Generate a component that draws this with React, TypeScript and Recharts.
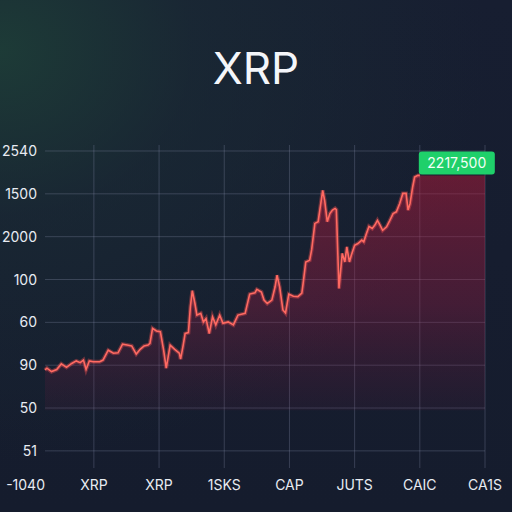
import React from "react";
import {
  ComposedChart,
  Area,
  Line,
  XAxis,
  YAxis,
  CartesianGrid,
} from "recharts";

// time position (in x-tick units) and price level (in y-tick units)
const time = [
  0.25, 0.28, 0.35, 0.43, 0.5, 0.58, 0.66, 0.73, 0.79, 0.84, 0.88, 0.93, 0.99,
  1.09, 1.14, 1.22, 1.3, 1.37, 1.44, 1.51, 1.58, 1.65, 1.71, 1.77, 1.83, 1.86,
  1.9, 1.96, 2.02, 2.07, 2.11, 2.17, 2.24, 2.31, 2.33, 2.37, 2.4, 2.45, 2.48,
  2.51, 2.55, 2.58, 2.64, 2.68, 2.72, 2.77, 2.82, 2.87, 2.93, 2.98, 3.06, 3.14,
  3.21, 3.32, 3.39, 3.47, 3.5, 3.57, 3.61, 3.66, 3.73, 3.78, 3.81, 3.85, 3.9,
  3.94, 3.99, 4.06, 4.13, 4.19, 4.21, 4.25, 4.31, 4.34, 4.39, 4.44, 4.51, 4.54,
  4.58, 4.62, 4.66, 4.7, 4.72, 4.76, 4.81, 4.85, 4.88, 4.92, 4.95, 5.0, 5.05,
  5.11, 5.14, 5.18, 5.22, 5.27, 5.31, 5.35, 5.39, 5.43, 5.49, 5.54, 5.59, 5.64,
  5.69, 5.74, 5.79, 5.82, 5.85, 5.89, 5.92, 5.97, 6.0,
];
const price = [
  1.89, 1.93, 1.85, 1.9, 2.03, 1.95, 2.04, 2.1, 2.06, 2.12, 1.9, 2.1, 2.08,
  2.08, 2.12, 2.35, 2.28, 2.29, 2.49, 2.47, 2.45, 2.26, 2.37, 2.45, 2.47, 2.51,
  2.86, 2.8, 2.78, 2.35, 1.93, 2.47, 2.37, 2.28, 2.14, 2.47, 2.74, 2.76, 3.36,
  3.74, 3.44, 3.17, 3.21, 3.01, 3.09, 2.74, 3.13, 2.94, 3.17, 2.98, 3.01, 2.94,
  3.17, 3.21, 3.66, 3.69, 3.77, 3.71, 3.52, 3.44, 3.52, 3.83, 4.1, 3.83, 3.29,
  3.22, 3.66, 3.61, 3.6, 3.68, 3.91, 4.41, 4.45, 4.69, 5.31, 5.35, 6.08, 5.85,
  5.35, 5.54, 5.62, 5.66, 5.63, 3.79, 4.61, 4.41, 4.76, 4.41, 4.57, 4.8, 4.84,
  4.92, 4.88, 5.07, 5.24, 5.19, 5.27, 5.38, 5.27, 5.15, 5.23, 5.38, 5.54, 5.58,
  5.77, 6.01, 6.01, 5.62, 5.77, 6.16, 6.39, 6.43, 6.43,
];
const fillEnd = 7;

const xTicks = [0.25, 1, 2, 3, 4, 5, 6, 7];
const xLabels = ["-1040", "XRP", "XRP", "1SKS", "CAP", "JUTS", "CAIC", "CA1S"];
const yTicks = [0, 1, 2, 3, 4, 5, 6, 7];
const yLabels = ["51", "50", "90", "60", "100", "2000", "1500", "2540"];
const lastLabel = "2217,500";

const data = [
  ...time.map((t, i) => ({ t, price: price[i], fill: price[i] })),
  { t: fillEnd, price: null, fill: price[price.length - 1] },
];

const FONT = "Inter, 'Noto Sans', sans-serif";

const XTick = (props: any) => {
  const { x, y, payload, index } = props;
  return (
    <text
      x={x}
      y={y + 14}
      textAnchor={index === 0 ? "end" : "middle"}
      fill="#e8ebf2"
      fontSize={14}
      fontFamily={FONT}
    >
      {xLabels[xTicks.indexOf(payload.value)]}
    </text>
  );
};

const YTick = (props: any) => {
  const { x, y, payload } = props;
  return (
    <text
      x={x}
      y={y + 5}
      textAnchor="end"
      fill="#e8ebf2"
      fontSize={14}
      fontFamily={FONT}
    >
      {yLabels[payload.value]}
    </text>
  );
};

const EndBadge = (props: any) => {
  const { cx, cy, index } = props;
  if (index !== time.length - 1) return null;
  return (
    <g>
      <rect x={cx - 1} y={cy - 24} width={76} height={23} rx={3} fill="#1fd06a" />
      <text
        x={cx + 37}
        y={cy - 7.5}
        textAnchor="middle"
        fill="#f2fff6"
        fontSize={14}
        fontFamily={FONT}
      >
        {lastLabel}
      </text>
    </g>
  );
};

export default function App() {
  return (
    <div
      style={{
        position: "absolute",
        left: 0,
        top: 0,
        width: 512,
        height: 512,
        overflow: "hidden",
        background:
          "radial-gradient(ellipse 95% 80% at 0% 10%, rgba(30,64,56,0.85) 0%, rgba(27,46,54,0.55) 40%, rgba(22,29,46,0) 100%), linear-gradient(180deg, #171e31 0%, #151c2d 100%)",
      }}
    >
      <div
        style={{
          position: "absolute",
          top: 42,
          width: 512,
          textAlign: "center",
          color: "#f4f6fa",
          fontFamily: FONT,
          fontSize: 44,
          lineHeight: "52px",
        }}
      >
        XRP
      </div>
      <ComposedChart
        width={512}
        height={512}
        data={data}
        margin={{ top: 145, right: 27, left: 0, bottom: 14 }}
        style={{ position: "absolute", left: 0, top: 0 }}
      >
        <defs>
          <linearGradient id="redFill" x1="0" y1="0" x2="0" y2="1">
            <stop offset="0%" stopColor="#b81a3a" stopOpacity={0.8} />
            <stop offset="55%" stopColor="#a01c44" stopOpacity={0.55} />
            <stop offset="100%" stopColor="#801a42" stopOpacity={0.15} />
          </linearGradient>
        </defs>
        <XAxis
          type="number"
          dataKey="t"
          domain={[0.25, 7]}
          ticks={xTicks}
          interval={0}
          tick={<XTick />}
          tickLine={false}
          axisLine={false}
          height={30}
        />
        <YAxis
          type="number"
          domain={[-0.4, 7.14]}
          ticks={yTicks}
          interval={0}
          tick={<YTick />}
          tickLine={false}
          axisLine={false}
          width={45}
        />
        <Area
          type="linear"
          dataKey="fill"
          baseValue={0.95}
          stroke="none"
          fill="url(#redFill)"
          isAnimationActive={false}
        />
        <CartesianGrid
          stroke="#8a93b0"
          strokeOpacity={0.3}
          strokeWidth={1}
          horizontalValues={yTicks}
          verticalValues={[1, 2, 3, 4, 5, 6, 7]}
        />
        <Line
          type="linear"
          dataKey="price"
          stroke="#ff5252"
          strokeOpacity={0.35}
          strokeWidth={4}
          dot={false}
          isAnimationActive={false}
        />
        <Line
          type="linear"
          dataKey="price"
          stroke="#ff6a62"
          strokeWidth={1.6}
          dot={<EndBadge />}
          isAnimationActive={false}
        />
      </ComposedChart>
    </div>
  );
}
